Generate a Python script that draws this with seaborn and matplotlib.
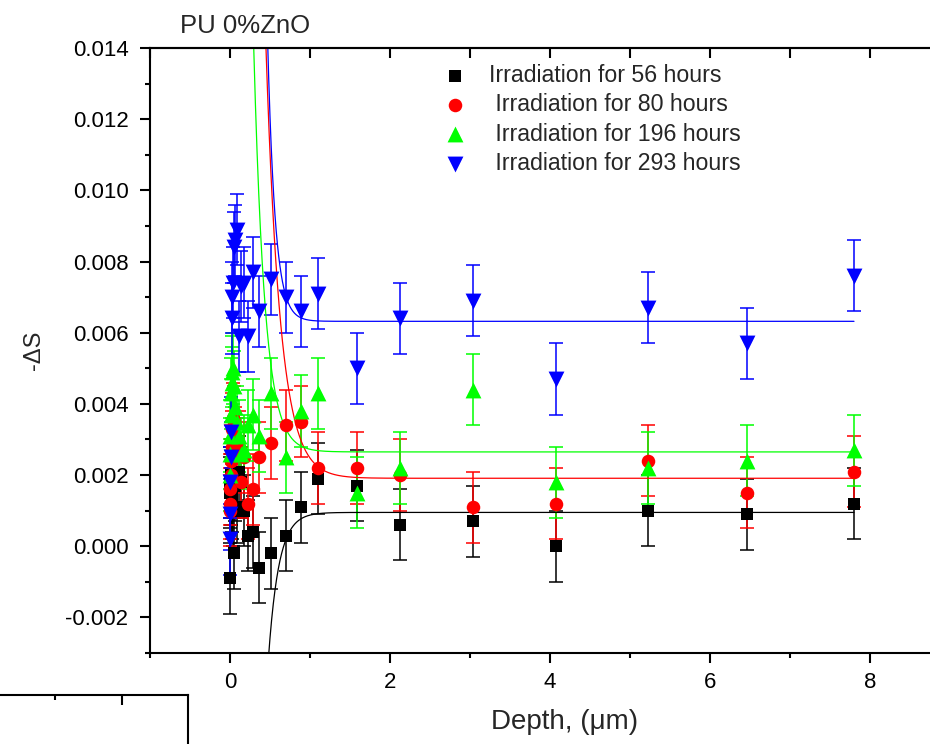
import numpy as np
import pandas as pd
import matplotlib
matplotlib.use("Agg")
import matplotlib.pyplot as plt
from matplotlib.ticker import MultipleLocator, FormatStrFormatter
import seaborn as sns

# ---------------- data ----------------
depth = [0.0, 0.003, 0.006, 0.01, 0.015, 0.02, 0.028, 0.038, 0.05, 0.065, 0.085,
         0.11, 0.14, 0.17, 0.22, 0.29, 0.36, 0.51, 0.70, 0.89, 1.10, 1.59, 2.12,
         3.04, 4.07, 5.22, 6.46, 7.80]

s_56h = [-0.0009, 0.0015, 0.0018, 0.0016, 0.0020, 0.0012, 0.0014, 0.0010, -0.0002,
         0.0017, 0.0011, 0.0021, 0.0018, 0.0010, 0.0003, 0.0004, -0.0006, -0.0002,
         0.0003, 0.0011, 0.0019, 0.0017, 0.0006, 0.0007, 0.0000, 0.0010, 0.0009, 0.0012]
s_80h = [0.0010, 0.0012, 0.0016, 0.0020, 0.0024, 0.0028, 0.0033, 0.0036, 0.0035,
         0.0029, 0.0026, 0.0028, 0.0018, 0.0025, 0.0012, 0.0016, 0.0025, 0.0029,
         0.0034, 0.0035, 0.0022, 0.0022, 0.0020, 0.0011, 0.0012, 0.0024, 0.0015, 0.0021]
s_196h = [0.0020, 0.0026, 0.0031, 0.0037, 0.0043, 0.0046, 0.0049, 0.0050, 0.0045,
          0.0039, 0.0035, 0.0031, 0.0026, 0.0027, 0.0034, 0.0037, 0.0031, 0.0043,
          0.0025, 0.0038, 0.0043, 0.0015, 0.0022, 0.0044, 0.0018, 0.0022, 0.0024, 0.0027]
s_293h = [0.0002, 0.0009, 0.0018, 0.0025, 0.0032, 0.0064, 0.0070, 0.0074, 0.0084,
          0.0086, 0.0089, 0.0059, 0.0073, 0.0074, 0.0059, 0.0077, 0.0066, 0.0075,
          0.0070, 0.0066, 0.0071, 0.0050, 0.0064, 0.0069, 0.0047, 0.0067, 0.0057, 0.0076]
s_error = 0.001

labels = ["Irradiation for 56 hours", " Irradiation for 80 hours",
          " Irradiation for 196 hours", " Irradiation for 293 hours"]
colors = ["#000000", "#ff0000", "#00ff00", "#0000ff"]
markers = ["s", "o", "^", "v"]
msizes = [85, 95, 130, 130]

# exponential-decay fit parameters (y0 + A*exp(-x/t))
fit_y0 = [0.00095, 0.00191, 0.00265, 0.00632]
fit_A = [-0.165, 0.147, 0.0945, 1.11]
fit_t = [0.13, 0.18, 0.14, 0.095]
fit_range = (0.0, 7.8)

series = [s_56h, s_80h, s_196h, s_293h]

# ---------------- style ----------------
sns.set_theme(style="ticks")
plt.rcParams["font.family"] = ["Liberation Sans", "DejaVu Sans"]
plt.rcParams["axes.unicode_minus"] = False

fig = plt.figure(figsize=(9.3, 7.44), dpi=100)
ax = fig.add_axes([150 / 930, 1 - 653 / 744, 1 - 150 / 930, (653 - 48) / 744])

xs = np.linspace(fit_range[0], fit_range[1], 1500)
for vals, lab, col, mk, ms, y0, A, t in zip(series, labels, colors, markers, msizes,
                                               fit_y0, fit_A, fit_t):
    df = pd.DataFrame({"depth": depth, "S": vals})
    ax.errorbar(df["depth"], df["S"], yerr=s_error, fmt="none", ecolor=col,
                elinewidth=1.1, capsize=4.8, capthick=1.1, zorder=2)
    sns.scatterplot(data=df, x="depth", y="S", ax=ax, marker=mk, s=ms,
                    color=col, linewidth=0, zorder=3, label=lab, legend=False)
    fit_df = pd.DataFrame({"depth": xs, "S": y0 + A * np.exp(-xs / t)})
    sns.lineplot(data=fit_df, x="depth", y="S", ax=ax, color=col, linewidth=0.9,
                 zorder=2.5, legend=False)

hs = [c for c in ax.collections if c.get_label() in labels]
leg = ax.legend(handles=hs, labels=labels, loc="upper left",
                bbox_to_anchor=(443 / 930, 1 - 64 / 744), bbox_transform=fig.transFigure,
                frameon=False, fontsize=16.7, handletextpad=1.0, labelspacing=0.27,
                handlelength=1.0, borderpad=0, borderaxespad=0)

ax.set_xlim(-1, 8.75)
ax.set_ylim(-0.003, 0.014)
ax.xaxis.set_major_locator(MultipleLocator(2))
ax.xaxis.set_minor_locator(MultipleLocator(1))
ax.yaxis.set_major_locator(MultipleLocator(0.002))
ax.yaxis.set_minor_locator(MultipleLocator(0.001))
ax.yaxis.set_major_formatter(FormatStrFormatter("%.3f"))

for sp in ["left", "bottom", "top"]:
    ax.spines[sp].set_linewidth(1.5)
    ax.spines[sp].set_color("black")
ax.spines["right"].set_visible(False)

ax.tick_params(axis="both", which="major", direction="out", length=7, width=1.5,
               labelsize=16, colors="black")
ax.tick_params(axis="y", which="major", pad=8.5)
ax.tick_params(axis="x", which="major", pad=6.5)
ax.tick_params(axis="both", which="minor", direction="out", length=3.5, width=1.5,
               colors="black")
ax.tick_params(top=False, right=False)

top = ax.secondary_xaxis("top")
top.set_xticks(range(-1, 9))
top.tick_params(direction="in", length=7, width=1.5, labeltop=False, colors="black")
top.spines["top"].set_linewidth(1.5)

ax.set_xlabel("Depth, (μm)", fontsize=20)
ax.xaxis.set_label_coords((565 - 150) / 780, -0.093)
ax.set_ylabel("-ΔS", fontsize=17)
ax.yaxis.set_label_coords((45 - 150) / 780, 0.5)

fig.text(180 / 930, 1 - 33 / 744, "PU 0%ZnO", fontsize=18.5, ha="left", va="baseline")

# ghost frame corner of a neighbouring panel (bottom-left)
ghost = fig.add_axes([-0.3, -0.3, 188 / 930 + 0.3, 1 - 695 / 744 + 0.3])
ghost.set_xlim(0, 1)
ghost.set_ylim(0, 1)
for sp in ["left", "bottom"]:
    ghost.spines[sp].set_visible(False)
for sp in ["top", "right"]:
    ghost.spines[sp].set_linewidth(1.5)
    ghost.spines[sp].set_color("black")
ghost_major = [(122 + 0.3 * 930) / (188 + 0.3 * 930)]
ghost_minor = [(55 + 0.3 * 930) / (188 + 0.3 * 930)]
ghost.set_xticks(ghost_major)
ghost.set_xticks(ghost_minor, minor=True)
ghost.set_yticks([])
ghost.tick_params(axis="x", which="both", bottom=False, top=True, labelbottom=False,
                  direction="in", width=1.5, colors="black")
ghost.tick_params(axis="x", which="major", length=7)
ghost.tick_params(axis="x", which="minor", length=3.5)
ghost.patch.set_alpha(0)

fig.savefig("out.png", dpi=100)
